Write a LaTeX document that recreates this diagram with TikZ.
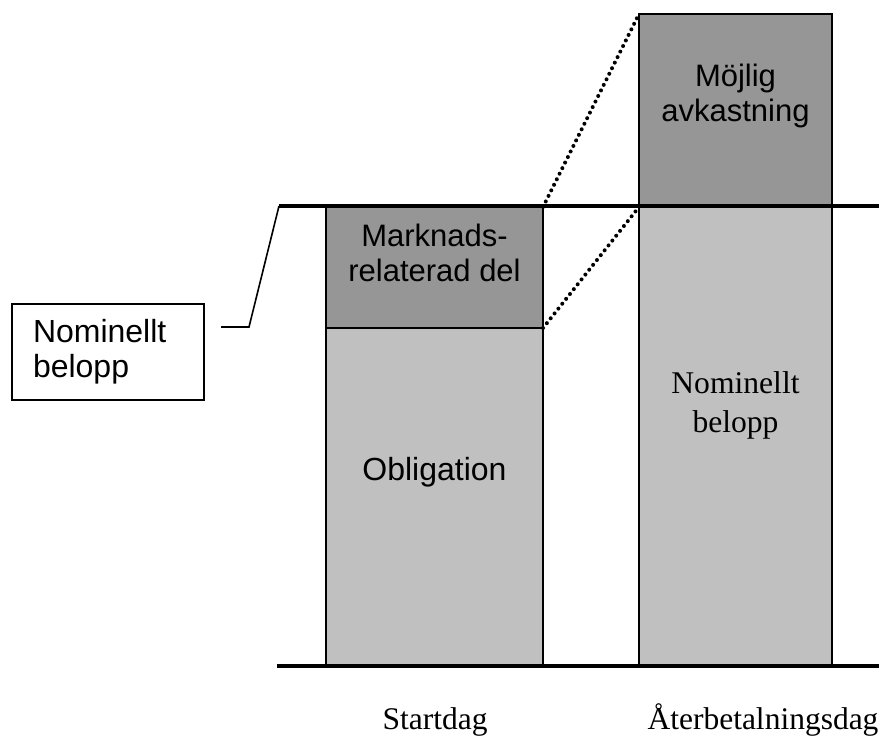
\documentclass[tikz,border=0pt]{standalone}
\usepackage{fontspec}
\setmainfont{Liberation Serif}
\setsansfont{Liberation Sans}
\usepackage{tikz}
\definecolor{darkbar}{RGB}{150,150,150}
\definecolor{lightbar}{RGB}{192,192,192}

\begin{document}
\begin{tikzpicture}[x=0.5pt,y=-0.5pt,inner sep=0pt,outer sep=0pt]
 \tikzstyle{bar}=[draw,line width=1pt,anchor=north west]
 \tikzstyle{upper}=[bar,fill=darkbar]
 \tikzstyle{lower}=[bar,fill=lightbar]
 \tikzstyle{sanstext}=[font=\sffamily\fontsize{15.5}{17.5}\selectfont,align=center]
 \tikzstyle{seriftext}=[font=\rmfamily\fontsize{15.8}{19.5}\selectfont,align=center]
 \tikzstyle{level rule}=[line width=1.6pt]
 \tikzstyle{zoomline}=[line width=2pt,line cap=round,dash pattern=on 0pt off 3.1pt]

 \useasboundingbox (0,0) rectangle (879,735);

 % bars
 \node[lower,minimum width=108.5pt,minimum height=169pt] (oblig) at (326,328) {};
 \node[upper,minimum width=108.5pt,minimum height=60.5pt] (markn) at (326,207) {};
 \node[lower,minimum width=96.5pt,minimum height=229.5pt] (nomin) at (639,207) {};
 \node[upper,minimum width=96.5pt,minimum height=96.5pt] (avk) at (639,14) {};

 % texts in the bars
 \node[sanstext,anchor=north] (markntxt) at (434.5,224) {Marknads-\\relaterad del};
 \node[sanstext,anchor=base,font=\sffamily\fontsize{16}{18}\selectfont] (obligtxt) at (434.5,480) {Obligation};
 \node[sanstext,anchor=north] (avktxt) at (735.5,64) {Möjlig\\avkastning};
 \node[seriftext,anchor=north] (nomintxt) at (735.5,372) {Nominellt\\belopp};

 % box on the left
 \node[draw,line width=1pt,font=\sffamily\fontsize{16}{17.5}\selectfont,align=left,
       text width=75pt,inner xsep=10.5pt,minimum height=48pt] (nombox) at (108,352) {Nominellt\\belopp};

 % levels
 \coordinate (topL) at (279,206);
 \coordinate (topR) at (879,206);
 \coordinate (botL) at (277,666);
 \coordinate (botR) at (879,666);
 \draw[level rule] (topL) -- (topR);
 \draw[level rule] (botL) -- (botR);

 % leader from the box
 \coordinate (lead) at (221,327);
 \draw[line width=0.8pt] (lead) -- ++(28,0) -- (topL);

 % dotted lines between the bars
 \draw[zoomline] (markn.north east) -- (avk.north west);
 \draw[zoomline] (markn.south east) -- (nomin.north west);

 % dates
 \node[seriftext,anchor=base,font=\rmfamily\fontsize{15.75}{18}\selectfont] (startdag) at (435,729) {Startdag};
 \node[seriftext,anchor=base,font=\rmfamily\fontsize{15.75}{18}\selectfont] (aterdag) at (763,729) {Återbetalningsdag};
\end{tikzpicture}
\end{document}
